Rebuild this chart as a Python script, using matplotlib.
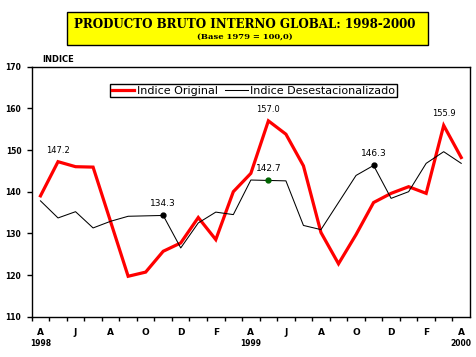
import matplotlib
matplotlib.use("Agg")
import matplotlib.pyplot as plt
from matplotlib.transforms import blended_transform_factory
from matplotlib.patches import Rectangle

months = ["A", "", "J", "", "A", "", "O", "", "D", "", "F", "",
          "A", "", "J", "", "A", "", "O", "", "D", "", "F", "", "A"]
years = {0: "1998", 12: "1999", 24: "2000"}
original = [139.0, 147.2, 146.0, 145.9, 132.8, 119.7, 120.7, 125.7, 127.7,
            133.8, 128.5, 140.0, 144.4, 157.0, 153.8, 146.2, 130.2, 122.7,
            129.7, 137.4, 139.6, 141.2, 139.6, 155.9, 148.2]
desest = [137.8, 133.7, 135.2, 131.3, 132.9, 134.1, 134.2, 134.3, 126.5,
          132.5, 135.1, 134.5, 142.8, 142.7, 142.6, 131.9, 130.9, 137.4,
          143.9, 146.3, 138.4, 140.0, 146.8, 149.6, 146.8]
orig_labels = {1: "147.2", 13: "157.0", 23: "155.9"}
des_labels = {7: "134.3", 13: "142.7", 19: "146.3"}
des_marker_colors = {7: "black", 13: "#006400", 19: "black"}
yticks = [110, 120, 130, 140, 150, 160, 170]

fig = plt.figure(figsize=(4.77, 3.57), dpi=100)
ax = fig.add_axes([0.0665, 0.1129, 0.9188, 0.7003])
x = list(range(len(months)))

l1, = ax.plot(x, original, color="#ff0000", lw=2.3, label="Indice Original",
              solid_joinstyle="miter", zorder=3)
l2, = ax.plot(x, desest, color="black", lw=0.75, label="Indice Desestacionalizado",
              zorder=4)

for i, c in des_marker_colors.items():
    ax.plot(x[i], desest[i], "o", color=c, ms=3.5, zorder=5)

for i, t in orig_labels.items():
    ax.annotate(t, (x[i], original[i]), xytext=(0, 5), textcoords="offset points",
                ha="center", va="bottom", fontsize=6, zorder=6)
for i, t in des_labels.items():
    ax.annotate(t, (x[i], desest[i]), xytext=(0, 5), textcoords="offset points",
                ha="center", va="bottom", fontsize=6.5, zorder=6)

ax.set_xlim(-0.5, len(months) - 0.5)
ax.set_ylim(110, 170)
ax.set_yticks(yticks)
ax.set_yticklabels([f"{v}" for v in yticks], fontsize=5.5, fontweight="bold")
ax.set_xticks([i - 0.5 for i in range(len(months))])
ax.set_xticklabels([])
ax.set_xticks(x, minor=True)
ax.set_xticklabels(months, minor=True, fontsize=6.5, fontweight="bold")
ax.tick_params(axis="x", which="major", direction="out", length=3, width=1)
ax.tick_params(axis="x", which="minor", length=0, pad=8)
ax.tick_params(axis="y", direction="out", length=3.5, width=1, pad=4)
for s in ax.spines.values():
    s.set_linewidth(1.0)

tr = blended_transform_factory(ax.transData, fig.transFigure)
for i, t in years.items():
    ax.text(x[i], 1 - 344 / 357, t, transform=tr, ha="center", va="center",
            fontsize=5.5, fontweight="bold")

fig.text(42 / 477, 1 - 59 / 357, "INDICE", fontsize=6, fontweight="bold",
         ha="left", va="center")

leg = ax.legend(handles=[l1, l2], ncol=2, loc="center",
                bbox_to_anchor=(253.5 / 477, 1 - 90.5 / 357),
                bbox_transform=fig.transFigure, fontsize=8, frameon=True,
                fancybox=False, edgecolor="black", handlelength=2.0,
                handletextpad=0.2, columnspacing=0.7, borderpad=0.15,
                borderaxespad=0, framealpha=1)
leg.get_frame().set_linewidth(1.0)

fig.patches.append(Rectangle((66.7 / 477, 1 - 45.3 / 357), (427.7 - 66.7) / 477,
                             33 / 357, transform=fig.transFigure,
                             facecolor="#ffff00", edgecolor="black", lw=1.0))
fig.text(245 / 477, 1 - 24.5 / 357, "PRODUCTO BRUTO INTERNO GLOBAL: 1998-2000",
         ha="center", va="center", fontsize=8.6, fontweight="bold",
         family="DejaVu Serif")
fig.text(245 / 477, 1 - 37.5 / 357, "(Base 1979 = 100,0)", ha="center",
         va="center", fontsize=6, fontweight="bold", family="DejaVu Serif")

fig.savefig("out.png", dpi=100)
